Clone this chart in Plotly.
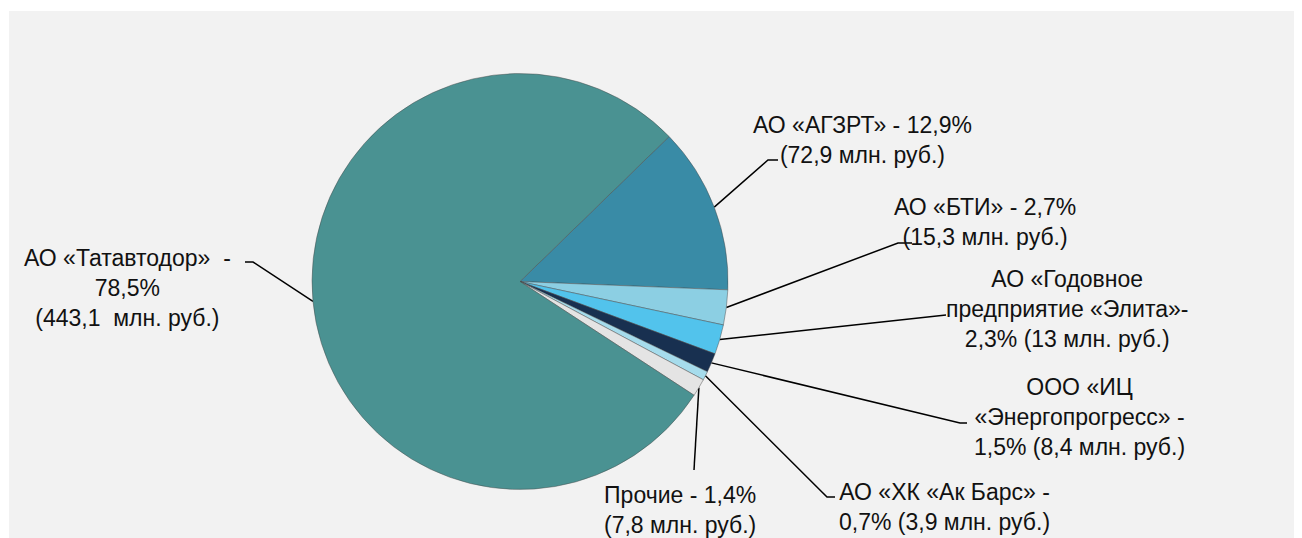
import math
import plotly.graph_objects as go

# ---- data ----
labels = ["АО «АГЗРТ»", "АО «БТИ»", "АО «Годовное предприятие «Элита»",
          "ООО «ИЦ «Энергопрогресс»", "АО «ХК «Ак Барс»", "Прочие", "АО «Татавтодор»"]
values_mln = [72.9, 15.3, 13, 8.4, 3.9, 7.8, 443.1]
percents = ["12,9%", "2,7%", "2,3%", "1,5%", "0,7%", "1,4%", "78,5%"]
label_texts = [
    "АО «АГЗРТ» - 12,9%<br>(72,9 млн. руб.)",
    "АО «БТИ» - 2,7%<br>(15,3 млн. руб.)",
    "АО «Годовное<br>предприятие «Элита»-<br>2,3% (13 млн. руб.)",
    "ООО «ИЦ<br>«Энергопрогресс» -<br>1,5% (8,4 млн. руб.)",
    "АО «ХК «Ак Барс» -<br>0,7% (3,9 млн. руб.)",
    "Прочие - 1,4%<br>(7,8 млн. руб.)",
    "АО «Татавтодор»  -<br>78,5%<br>(443,1  млн. руб.)",
]
colors = ["#398BA6", "#8CCFE3", "#52C3EC", "#183050", "#A6DCEC", "#E4E4E4", "#4A9292"]

# ---- layout constants (page pixels) ----
PAGE_W, PAGE_H = 1302, 538
OFF = 8                      # default body margin of the html page
W, H = PAGE_W - OFF, PAGE_H - OFF
cx, cy, R = 520, 281.5, 208
rotation = 45.8
text_pos = [(862, 140), (985, 222), (1067, 309), (1079, 417), (944, 507), (680, 510), (127, 288)]
elbows = [
    [(768, 160), (778, 160)],
    [(898, 243), (912, 243)],
    [(940, 315), (946, 315)],
    [(960, 423), (967, 423)],
    [(827, 497), (835, 497)],
    [(694, 470)],
    [(253, 262), (245, 262)],
]

FONT = "Liberation Sans, Arial, sans-serif"
FSIZE = 23

fig = go.Figure()

fig.add_trace(go.Pie(
    labels=labels, values=values_mln, sort=False, direction="clockwise",
    rotation=rotation, textinfo="none", hoverinfo="label+percent",
    marker=dict(colors=colors, line=dict(color="rgba(70,70,70,0.45)", width=1)),
    domain=dict(x=[(cx - R - OFF) / W, (cx + R - OFF) / W],
                y=[1 - (cy + R - OFF) / H, 1 - (cy - R - OFF) / H]),
    showlegend=False,
))

total = sum(values_mln)
cum = 0.0
for i, v in enumerate(values_mln):
    mid = rotation + (cum + v / 2) / total * 360
    cum += v
    a = math.radians(mid)
    ax, ay = cx + R * math.sin(a), cy - R * math.cos(a)
    pts = [(ax, ay)] + elbows[i]
    fig.add_trace(go.Scatter(
        x=[p[0] for p in pts], y=[p[1] for p in pts], mode="lines",
        line=dict(color="#000000", width=1.5), hoverinfo="skip", showlegend=False,
    ))
    fig.add_annotation(
        x=text_pos[i][0], y=text_pos[i][1], xref="x", yref="y", text=label_texts[i],
        showarrow=False, xanchor="center", yanchor="middle", align="center",
        font=dict(family=FONT, size=FSIZE, color="#111111"),
    )

fig.update_layout(
    width=W, height=H, margin=dict(l=0, r=0, t=0, b=0),
    paper_bgcolor="#FFFFFF", plot_bgcolor="rgba(0,0,0,0)",
    xaxis=dict(range=[OFF, PAGE_W], visible=False, fixedrange=True),
    yaxis=dict(range=[PAGE_H, OFF], visible=False, fixedrange=True),
    shapes=[dict(type="rect", xref="x", yref="y", x0=9, y0=11, x1=PAGE_W, y1=PAGE_H,
                 fillcolor="#F2F2F2", line=dict(width=0), layer="below")],
)

fig.write_html("out.html")
